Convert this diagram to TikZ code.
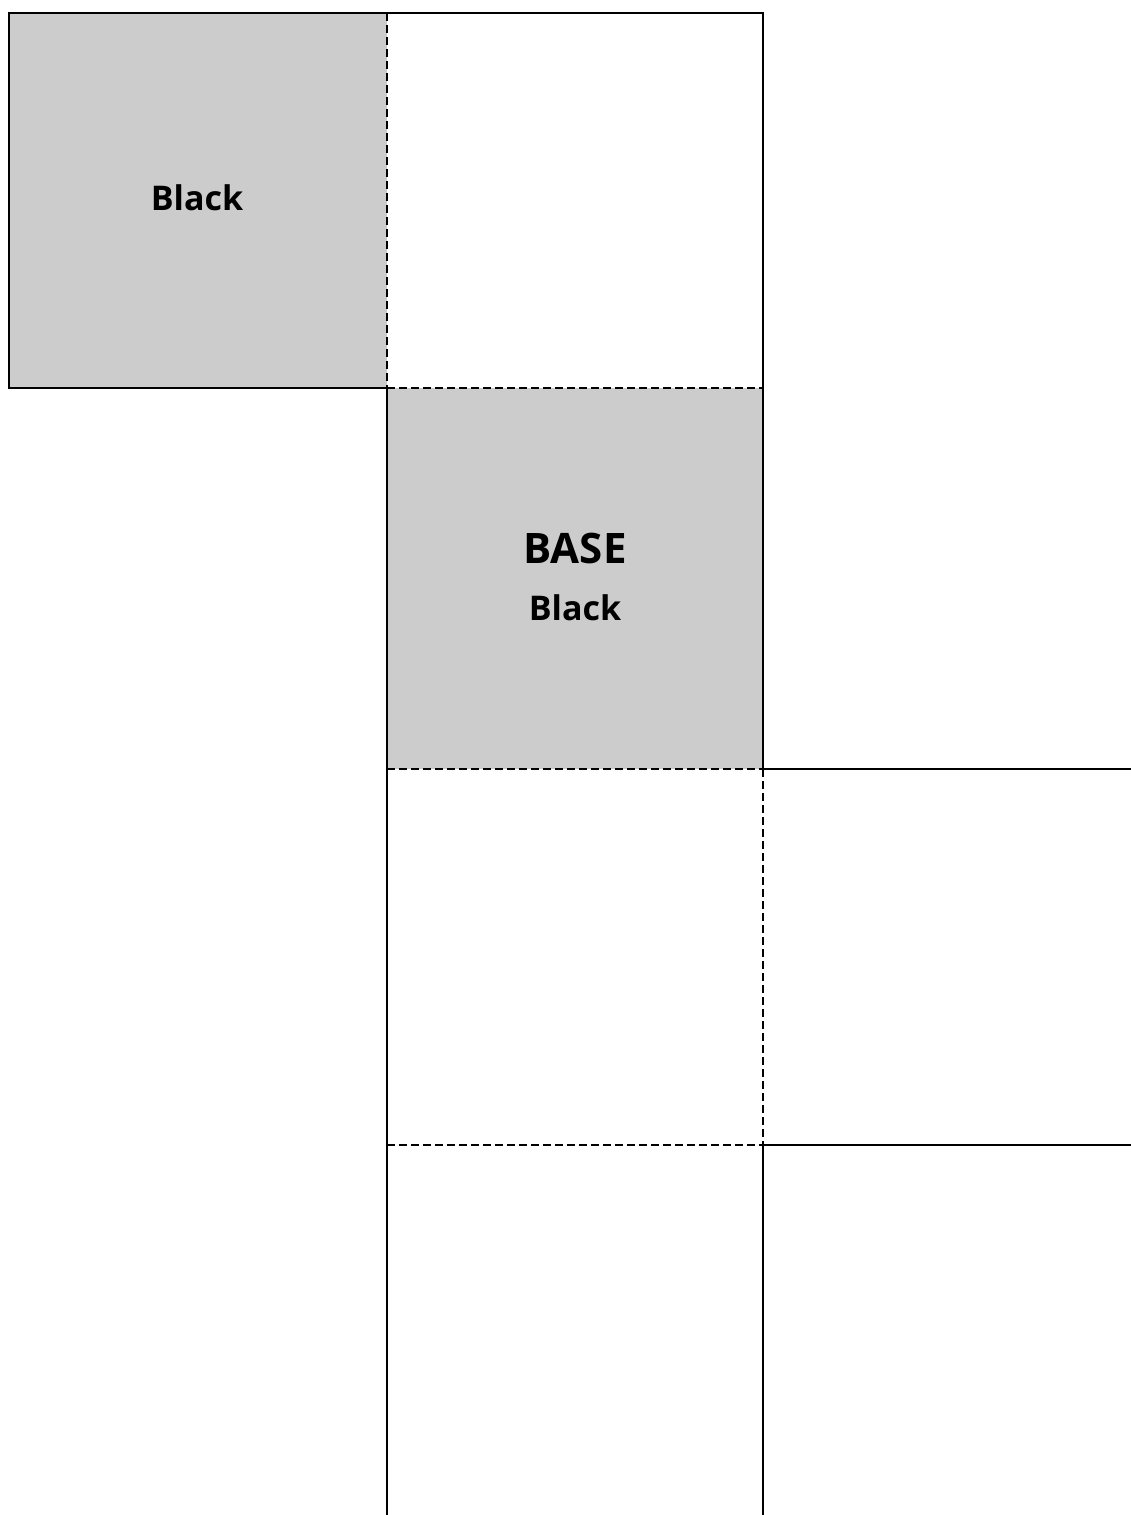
\documentclass[tikz,border=0pt]{standalone}
\usepackage{fontspec}
\setmainfont{Open Sans}
\begin{document}
\begin{tikzpicture}[x=1pt,y=-1pt,
  solidln/.style={line width=2.6pt,line cap=rect},
  dashln/.style={line width=2.4pt,dash pattern=on 8pt off 4pt},
  grayfill/.style={fill=black!20,draw=none},
  lbl/.style={anchor=base,inner sep=0pt,font=\fontsize{34}{40}\selectfont\bfseries},
  biglbl/.style={anchor=base,inner sep=0pt,font=\fontsize{42}{44}\selectfont\bfseries}]
\useasboundingbox (0,0) rectangle (1131,1515);
% grid coordinates
\coordinate (a0) at (9,13);
\coordinate (b0) at (387,13);
\coordinate (c0) at (763,13);
\coordinate (a1) at (9,388);
\coordinate (b1) at (387,388);
\coordinate (c1) at (763,388);
\coordinate (b2) at (387,769);
\coordinate (c2) at (763,769);
\coordinate (d2) at (1131,769);
\coordinate (b3) at (387,1145);
\coordinate (c3) at (763,1145);
\coordinate (d3) at (1131,1145);
\coordinate (b4) at (387,1515);
\coordinate (c4) at (763,1515);
% fills
\fill[grayfill] (a0) rectangle (b1);
\fill[grayfill] (b1) rectangle (c2);
% dashed lines
\draw[dashln] (b0) -- (b1);
\draw[dashln] (b1) -- (c1);
\draw[dashln] (b2) -- (c2);
\draw[dashln] (c2) -- (c3);
\draw[dashln] (b3) -- (c3);
% solid lines
\draw[solidln] (b0) -- (a0) -- (a1) -- (b1);
\draw[solidln] (b0) -- (c0) -- (c1) -- (c2);
\draw[solidln] (b1) -- (b4);
\draw[solidln] (c2) -- (d2);
\draw[solidln] (c3) -- (d3);
\draw[solidln] (c3) -- (c4);
% labels
\node[lbl] (t1) at (197,210) {Black};
\node[biglbl] (t2) at (575,563) {BASE};
\node[lbl] (t3) at (575,620) {Black};
\end{tikzpicture}
\end{document}
